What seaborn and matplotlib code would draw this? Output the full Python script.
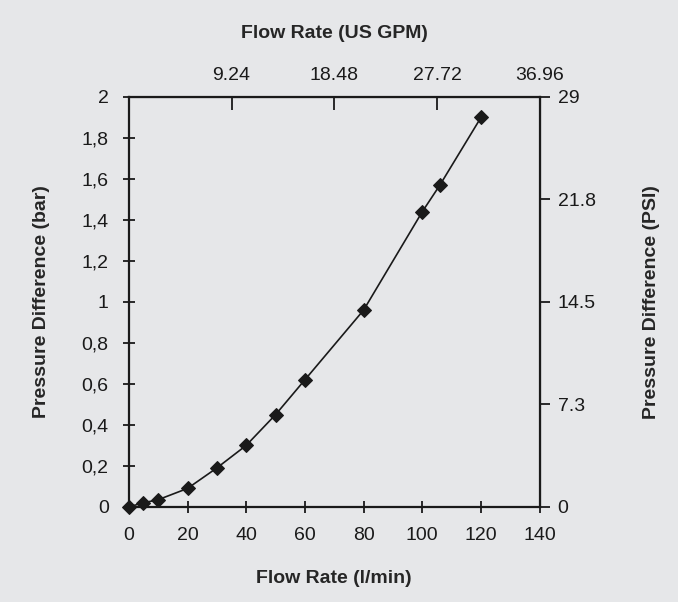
import seaborn as sns
import pandas as pd
from matplotlib import pyplot as plt

# data
flow_lpm = [0, 5, 10, 20, 30, 40, 50, 60, 80, 100, 106, 120]
dp_bar = [0, 0.02, 0.035, 0.09, 0.19, 0.3, 0.45, 0.62, 0.96, 1.44, 1.57, 1.9]

x_ticks = [0, 20, 40, 60, 80, 100, 120, 140]
y_ticks = [0, 0.2, 0.4, 0.6, 0.8, 1, 1.2, 1.4, 1.6, 1.8, 2]
y_tick_labels = ["0", "0,2", "0,4", "0,6", "0,8", "1", "1,2", "1,4", "1,6", "1,8", "2"]
gpm_pos = [35, 70, 105, 140]
gpm_labels = ["9.24", "18.48", "27.72", "36.96"]
psi_pos = [0, 0.5, 1, 1.5, 2]
psi_labels = ["0", "7.3", "14.5", "21.8", "29"]

df = pd.DataFrame({"flow": flow_lpm, "dp": dp_bar})

bg = "#e6e7e9"
ink = "#1a1a1a"
sns.set_style("white")
plt.rcParams['font.family'] = ['Liberation Sans', 'DejaVu Sans']
label_font = dict(family=['Liberation Sans Narrow', 'Liberation Sans'], weight='bold', size=14)

fig = plt.figure(figsize=(6.78, 6.02), dpi=100, facecolor=bg)
ax = fig.add_axes([0.19, 0.158, 0.606, 0.681], facecolor=bg)

sns.lineplot(data=df, x="flow", y="dp", ax=ax, color=ink, linewidth=1.2,
             marker="D", markersize=7, markeredgecolor=ink, clip_on=False, zorder=5)

ax.set_xlim(0, 140)
ax.set_ylim(0, 2)
ax.set_xticks(x_ticks)
ax.set_yticks(y_ticks)
ax.set_yticklabels(y_tick_labels)
ax.tick_params(axis='both', bottom=True, left=True, direction='inout', length=9,
               width=1.3, labelsize=14, colors=ink, pad=10)
for s in ax.spines.values():
    s.set_linewidth(1.6)
    s.set_color(ink)
ax.set_xlabel("Flow Rate (l/min)", fontdict=label_font, labelpad=19)
ax.set_ylabel("Pressure Difference (bar)", fontdict=label_font, labelpad=23)

top = ax.secondary_xaxis('top')
top.set_xticks(gpm_pos)
top.set_xticklabels(gpm_labels)
top.tick_params(top=True, direction='in', length=9, width=1.3, labelsize=14, colors=ink, pad=9)
top.set_xlabel("Flow Rate (US GPM)", fontdict=label_font, labelpad=21)

right = ax.secondary_yaxis('right')
right.set_yticks(psi_pos)
right.set_yticklabels(psi_labels)
right.tick_params(right=True, direction='out', length=7, width=1.3, labelsize=14, colors=ink, pad=6)
right.set_ylabel("Pressure Difference (PSI)", fontdict=label_font, labelpad=34)

fig.savefig("out.png", dpi=100, facecolor=bg)
